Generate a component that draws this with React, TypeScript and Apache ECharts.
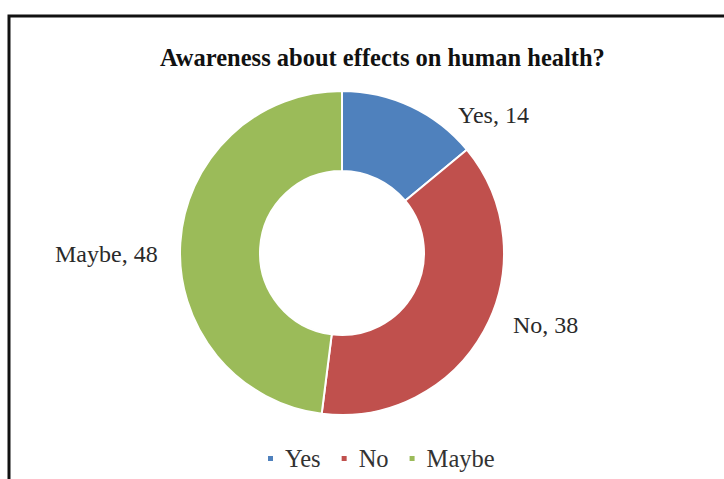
import React, { useEffect, useRef } from "react";
import * as echarts from "echarts";

// Survey answers
const categories = ["Yes", "No", "Maybe"];
const counts = [14, 38, 48];
const colors = ["#4F81BD", "#C0504D", "#9BBB59"];

const TITLE = "Awareness about effects on human health?";
const FONT = "'Liberation Serif', 'Times New Roman', serif";

// Where each data label sits (left edge, vertical middle)
const labelSpots: [number, number][] = [
  [458, 115],
  [513, 325],
  [55, 254],
];

export default function App() {
  const ref = useRef<HTMLDivElement>(null);

  useEffect(() => {
    if (!ref.current) return;
    const chart = echarts.init(ref.current, undefined, { renderer: "svg" });
    chart.setOption({
      animation: false,
      backgroundColor: "#fff",
      title: {
        text: TITLE,
        left: 160,
        top: 45,
        padding: 0,
        textStyle: {
          fontFamily: FONT,
          fontSize: 24.5,
          fontWeight: "bold",
          color: "#111",
        },
      },
      legend: {
        data: categories,
        left: 266,
        top: 446,
        padding: 0,
        icon: "rect",
        itemWidth: 7,
        itemHeight: 7,
        itemGap: 19,
        selectedMode: false,
        textStyle: {
          fontFamily: FONT,
          fontSize: 24.5,
          color: "#333",
          padding: [0, 0, 0, 6],
        },
      },
      graphic: [
        {
          type: "rect",
          shape: { x: 9, y: 16, width: 800, height: 500 },
          style: { fill: "none", stroke: "#111", lineWidth: 3 },
          silent: true,
        },
      ],
      series: [
        {
          type: "pie",
          center: [342, 253],
          radius: [82, 162],
          startAngle: 90,
          clockwise: true,
          itemStyle: { borderColor: "#fff", borderWidth: 2 },
          label: {
            show: true,
            position: "outside",
            formatter: "{b}, {c}",
            fontFamily: FONT,
            fontSize: 24,
            color: "#2a2a2a",
          },
          labelLine: { show: false },
          labelLayout: (p: any) => {
            const [x, y] = labelSpots[p.dataIndex];
            return { x, y, align: "left", verticalAlign: "middle" };
          },
          emphasis: { disabled: true },
          data: categories.map((name, i) => ({
            name,
            value: counts[i],
            itemStyle: { color: colors[i] },
          })),
        },
      ],
    });
    return () => chart.dispose();
  }, []);

  return (
    <div
      ref={ref}
      style={{ position: "absolute", left: 0, top: 0, width: 724, height: 479 }}
    />
  );
}
